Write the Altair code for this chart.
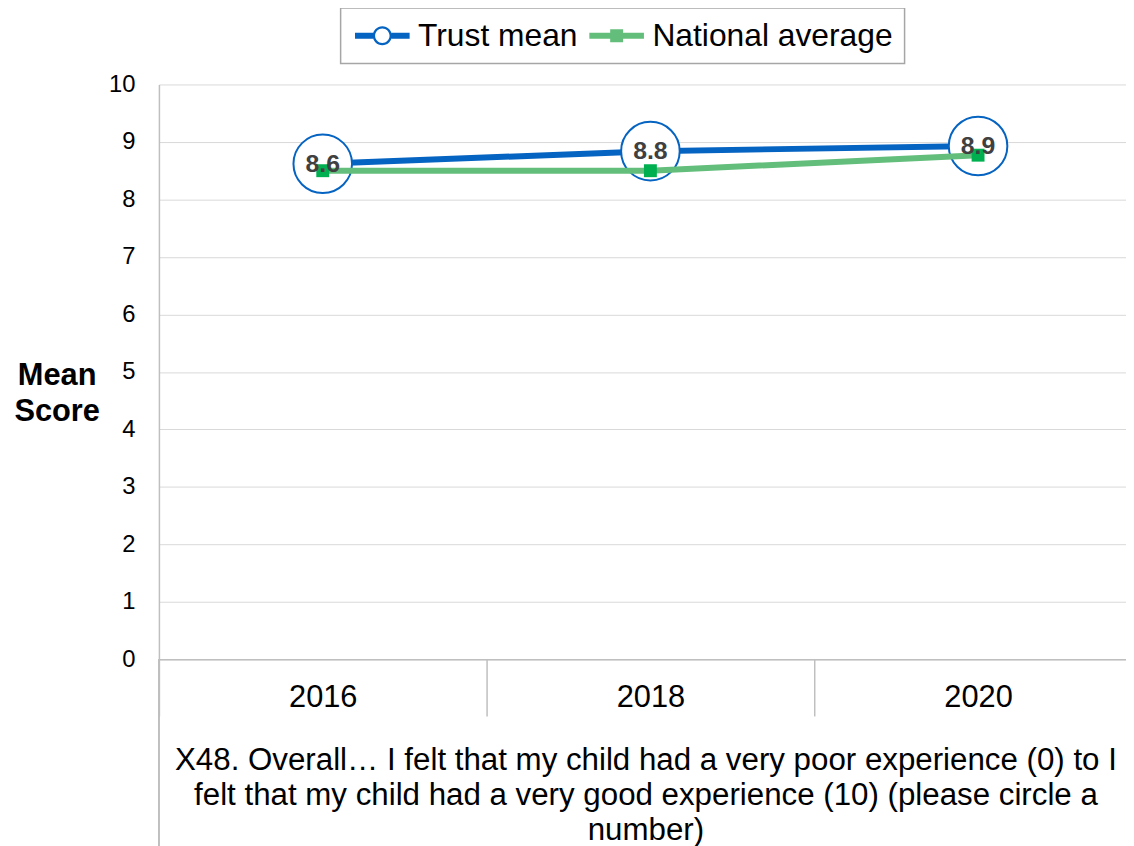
import altair as alt
import pandas as pd

# ---- data ----
years = ["2016", "2018", "2020"]
trust_mean = [8.62, 8.84, 8.93]
national_avg = [8.5, 8.5, 8.77]
series_names = ["Trust mean", "National average"]
y_ticks = [0, 1, 2, 3, 4, 5, 6, 7, 8, 9, 10]
x_title = [
    "X48. Overall\u2026 I felt that my child had a very poor experience (0) to I",
    "felt that my child had a very good experience (10) (please circle a",
    "number)",
]
y_title = ["Mean", "Score"]

FONT = "Liberation Sans"
BLUE = "#0563C1"
GREEN_LINE = "#63BE7B"
GREEN_MARK = "#00B050"
AXIS_GREY = "#BFBFBF"
GRID_GREY = "#D9D9D9"

df = pd.DataFrame({"year": years, "trust": trust_mean, "national": national_avg})
legend_df = pd.DataFrame({"series": series_names})

x_enc = alt.X(
    "year:N",
    sort=years,
    scale=alt.Scale(type="band", range=[0, 990], paddingInner=0, paddingOuter=0),
    axis=alt.Axis(
        title=x_title,
        titleFont=FONT,
        titleFontSize=31.5,
        titleFontWeight="normal",
        titleColor="#000000",
        titleLineHeight=35,
        titleX=490,
        titleY=111,
        titleAlign="center",
        titleBaseline="alphabetic",
        labelFont=FONT,
        labelFontSize=31,
        labelColor="#000000",
        labelAngle=0,
        labelBaseline="middle",
        labelPadding=-19,
        tickBand="extent",
        tickSize=57,
        tickColor=AXIS_GREY,
        tickWidth=1.5,
        domainColor=AXIS_GREY,
        domainWidth=1.5,
        grid=False,
    ),
)

y_axis = alt.Axis(
    values=y_ticks,
    format="d",
    title=y_title,
    titleFont=FONT,
    titleFontSize=31,
    titleFontWeight="bold",
    titleColor="#000000",
    titleAngle=0,
    titleAlign="center",
    titleBaseline="alphabetic",
    titleLineHeight=36,
    titleX=-103,
    titleY=302,
    labelFont=FONT,
    labelFontSize=24,
    labelColor="#000000",
    labelPadding=24,
    ticks=False,
    domainColor=AXIS_GREY,
    domainWidth=1.5,
    gridColor=GRID_GREY,
    gridWidth=1,
)
y_scale = alt.Scale(domain=[0, 10], nice=False, zero=True)

base = alt.Chart(df)

trust_line = base.mark_line(color=BLUE, strokeWidth=6).encode(
    x=x_enc, y=alt.Y("trust:Q", scale=y_scale, axis=y_axis)
)
trust_pts = base.mark_point(
    shape="circle", size=3481, fill="white", stroke=BLUE, strokeWidth=2,
    opacity=1, fillOpacity=1,
).encode(x=x_enc, y=alt.Y("trust:Q", scale=y_scale))
nat_line = base.mark_line(color=GREEN_LINE, strokeWidth=6).encode(
    x=x_enc, y=alt.Y("national:Q", scale=y_scale)
)
nat_pts = base.mark_square(size=169, color=GREEN_MARK, opacity=1).encode(
    x=x_enc, y=alt.Y("national:Q", scale=y_scale)
)
labels = base.mark_text(
    font=FONT, fontSize=25, fontWeight="bold", color="#404040",
    baseline="middle", align="center",
).encode(
    x=x_enc, y=alt.Y("trust:Q", scale=y_scale),
    text=alt.Text("trust:Q", format=".1f"),
)

# left border continuing down past the category labels
left_rule = base.mark_rule(color=AXIS_GREY, strokeWidth=1.5).encode(
    x=alt.value(0), y=alt.value(579), y2=alt.value(780)
)

TRUST_SYM = (
    "M-1.774,-0.194H-0.6V0.194H-1.774Z"
    "M0.6,-0.194H1.774V0.194H0.6Z"
    "M0.62,0A0.62,0.62 0 1,1 -0.62,0A0.62,0.62 0 1,1 0.62,0Z"
    "M0.47,0A0.47,0.47 0 1,0 -0.47,0A0.47,0.47 0 1,0 0.47,0Z"
)
NAT_SYM = "M-1.774,-0.194H1.774V0.194H-1.774ZM-0.42,-0.42H0.42V0.42H-0.42Z"

legend_opts = dict(
    title=None,
    orient="none",
    legendX=183,
    legendY=-77,
    direction="horizontal",
    padding=12,
    columnPadding=9,
    symbolOffset=14,
    labelOffset=20,
    symbolSize=961,
    symbolStrokeWidth=0,
    labelFont=FONT,
    labelFontSize=32,
    labelColor="#000000",
    labelLimit=0,
    strokeColor="#A6A6A6",
)

legend_layer = alt.Chart(legend_df).transform_filter("false").mark_point(
    filled=True, opacity=1, strokeWidth=0
).encode(
    shape=alt.Shape(
        "series:N",
        scale=alt.Scale(domain=series_names, range=[TRUST_SYM, NAT_SYM]),
        legend=alt.Legend(**legend_opts),
    ),
    color=alt.Color(
        "series:N",
        scale=alt.Scale(domain=series_names, range=[BLUE, GREEN_LINE]),
        legend=alt.Legend(**legend_opts),
    ),
)

chart = alt.layer(
    trust_line, trust_pts, nat_line, nat_pts, labels, left_rule, legend_layer
).properties(
    width=974,
    height=579,
    autosize=alt.AutoSizeParams(type="none"),
    padding={"left": 152, "top": 74, "right": 0, "bottom": 190},
).configure_view(stroke=None).configure_legend(strokeWidth=1.5)

chart.save("out.html", embed_options={"renderer": "svg", "actions": False})
